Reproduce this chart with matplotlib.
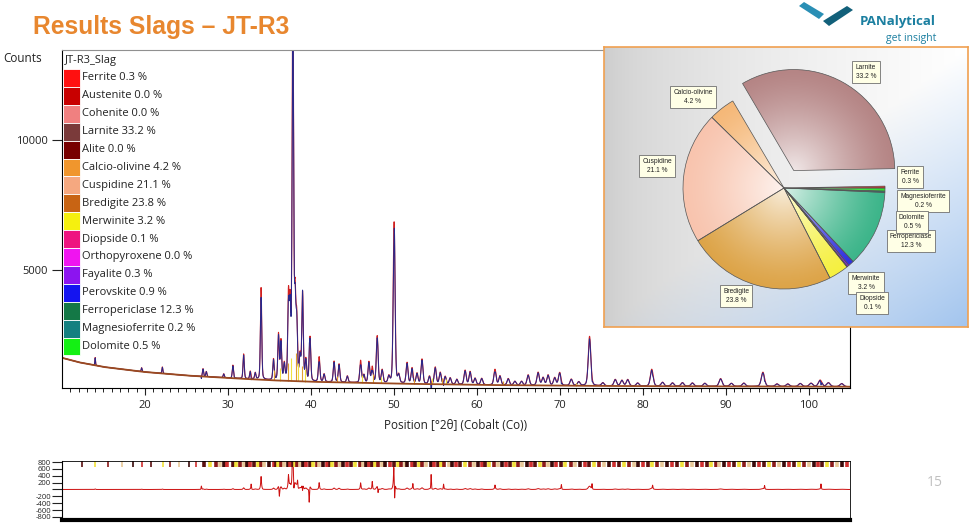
import numpy as np
import matplotlib.pyplot as plt
from matplotlib.patches import Rectangle, Polygon
from matplotlib.colors import to_rgb

plt.rcParams['font.family'] = ['Open Sans', 'DejaVu Sans']

# phases (legend order) and quantities
phases = ['Ferrite', 'Austenite', 'Cohenite', 'Larnite', 'Alite', 'Calcio-olivine',
          'Cuspidine', 'Bredigite', 'Merwinite', 'Diopside', 'Orthopyroxene',
          'Fayalite', 'Perovskite', 'Ferropericlase', 'Magnesioferrite', 'Dolomite']
pct = [0.3, 0.0, 0.0, 33.2, 0.0, 4.2, 21.1, 23.8, 3.2, 0.1, 0.0, 0.3, 0.9, 12.3, 0.2, 0.5]
legend_colors = ['#FF1010', '#C80000', '#F08080', '#7A3A3A', '#780000', '#F0962D',
                 '#F5A880', '#C86414', '#F5F00F', '#EE1480', '#F014F0', '#8C14F0',
                 '#1414F0', '#147846', '#148080', '#14F014']
pie_colors = {'Ferrite': '#F02020', 'Larnite': '#B58585', 'Calcio-olivine': '#F5B878',
              'Cuspidine': '#F8C4AE', 'Bredigite': '#DDA448', 'Merwinite': '#F5F040',
              'Diopside': '#EE1480', 'Fayalite': '#8C14F0', 'Perovskite': '#3030E0',
              'Ferropericlase': '#3DB58A', 'Magnesioferrite': '#148080', 'Dolomite': '#30E030'}

# diffraction pattern: background and peaks
bg_pos = [10, 12, 15, 18, 20, 25, 30, 35, 40, 50, 60, 70, 80, 90, 105]
bg_cnt = [1620, 1450, 1270, 1150, 1075, 940, 845, 760, 700, 630, 580, 550, 530, 520, 510]

peak_pos = [14.0, 19.6, 22.1, 27.0, 27.4, 29.5, 30.6, 31.9, 32.7, 33.3, 34.0, 35.5, 36.1,
            36.4, 36.8, 37.3, 37.5, 37.83, 38.1, 38.3, 38.7, 39.0, 39.4, 39.9, 41.0, 41.6,
            42.8, 43.4, 44.4, 46.0, 46.4, 47.0, 47.4, 48.0, 48.6, 49.4, 50.04,
            50.6, 51.6, 52.2, 52.8, 53.4, 54.3, 55.0, 55.6, 56.2, 56.8, 57.6, 58.6, 59.2,
            59.8, 60.6, 62.2, 62.8, 63.8, 64.6, 65.4, 66.2, 67.4, 68.0, 68.6, 69.4, 70.0,
            71.4, 72.3, 73.6, 75.2, 76.7, 77.5, 78.2, 79.4, 81.1, 82.4, 83.6, 84.8, 86.0,
            87.5, 89.4, 90.7, 92.2, 94.5, 96.2, 97.5, 99.0, 100.3, 101.4, 102.4, 104.0]
peak_h = [300, 150, 250, 300, 200, 150, 500, 950, 300, 250, 3530, 800, 1760,
          1500, 600, 3120, 2700, 15000, 3000, 2200, 900, 3360, 800, 1700, 950, 300,
          800, 700, 250, 850, 300, 800, 600, 1800, 500, 250, 6200,
          300, 800, 600, 400, 950, 300, 650, 450, 300, 250, 200, 550, 500,
          250, 250, 600, 350, 250, 150, 150, 400, 500, 300, 400, 300, 500,
          250, 150, 1900, 120, 250, 220, 250, 120, 650, 150, 130, 140, 130,
          120, 300, 120, 130, 550, 100, 100, 120, 130, 250, 150, 120]

# individual phase contributions drawn as sticks
stick_pos = [35.6, 36.3, 37.2, 37.6, 38.2, 38.5, 38.9, 39.3, 43.2, 46.2, 47.5, 48.4,
             52.4, 54.6, 55.8, 56.3, 63.2, 72.0]
stick_h = [400, 500, 700, 900, 1100, 700, 600, 500, 250, 300, 350, 250, 200, 250, 250,
           200, 150, 120]

# difference curve spikes
resid_pos = [26.8, 32.8, 34.0, 36.2, 37.3, 37.8, 37.95, 38.4, 39.0, 39.8, 41.0, 46.0, 47.4,
             48.1, 50.0, 50.1, 52.3, 54.5, 56.0, 62.2, 70.2, 73.9, 81.2, 94.7, 101.5]
resid_amp = [100, 150, 200, -250, 250, 950, -300, 200, -200, -420, 150, 150, 200,
             -150, 380, -530, 150, 430, 150, 100, 130, 150, 100, 100, 150]

# reference reflection positions (top strip of the difference plot)
refl_pos = [12.4, 14.0, 15.6, 17.2, 18.5, 19.6, 20.7, 22.2, 23.0, 24.1, 25.3, 26.2, 27.1,
            27.9, 28.6, 29.0, 29.5, 29.9, 30.6, 31.0, 31.4, 31.9, 32.3, 32.7, 33.2, 33.6,
            34.0, 34.4, 34.9, 35.5, 35.8, 36.1, 36.4, 36.8, 37.3, 37.5, 37.8, 38.1, 38.3,
            38.7, 39.0, 39.4, 39.9, 40.3, 40.7, 41.0, 41.5, 41.9, 42.3, 42.6, 43.0, 43.5,
            43.9, 44.4, 44.8, 45.3, 45.9, 46.3, 46.7, 47.0, 47.4, 47.7, 48.05, 48.6, 49.0,
            49.5, 50.04, 50.5, 50.9, 51.3, 51.6, 52.2, 52.6, 53.0, 53.4, 53.9, 54.5, 54.9,
            55.3, 55.7, 56.1, 56.6, 57.0, 57.5, 58.0, 58.6, 59.2, 59.7, 60.1, 60.6, 61.0,
            61.5, 62.1, 62.6, 63.0, 63.5, 64.0, 64.5, 65.0, 65.5, 66.0, 66.5, 67.0, 67.6,
            68.1, 68.6, 69.1, 69.6, 70.2, 70.7, 71.4, 71.9, 72.4, 73.0, 73.55, 74.1, 74.7,
            75.3, 75.9, 76.5, 77.1, 77.7, 78.3, 78.9, 79.5, 80.1, 80.6, 81.1, 81.7, 82.3,
            82.9, 83.5, 84.1, 84.7, 85.3, 85.9, 86.5, 87.1, 87.7, 88.3, 88.9, 89.2, 89.8,
            90.4, 91.0, 91.6, 92.2, 92.8, 93.4, 94.0, 94.6, 95.2, 95.8, 96.4, 97.0, 97.6,
            98.2, 98.8, 99.4, 100.0, 100.6, 101.2, 101.6, 102.2, 102.8, 103.4, 104.0, 104.6]
refl_cols = ['#5A1010', '#F2E23A', '#8B1A1A', '#E8C898', '#3A0A0A', '#D03030']

# pie label positions (figure pixels)
pie_label_xy = {'Larnite': (866, 72), 'Calcio-olivine': (693, 97), 'Cuspidine': (657, 166),
                'Ferrite': (910, 177), 'Magnesioferrite': (923, 201), 'Dolomite': (912, 222),
                'Ferropericlase': (911, 241), 'Merwinite': (866, 283), 'Diopside': (872, 303),
                'Bredigite': (736, 296)}

W, H = 975, 532
fig = plt.figure(figsize=(9.75, 5.32), dpi=100)


def box(l, t, r, b):
    return [l / W, 1 - b / H, (r - l) / W, (b - t) / H]


def profile(x, pos, h, w):
    d = (x[:, None] - np.asarray(pos)[None, :]) / np.asarray(w)[None, :]
    g = np.exp(-4 * np.log(2) * d ** 2)
    lo = 1 / (1 + 4 * d ** 2)
    return ((0.7 * g + 0.3 * lo) * np.asarray(h)[None, :]).sum(axis=1)


x = np.arange(10, 105.001, 0.01)
bg = np.interp(x, bg_pos, bg_cnt)
pw = 0.08 + 0.0045 * (np.array(peak_pos) - 10)
obs = bg + profile(x, peak_pos, peak_h, pw)
resid = profile(x, resid_pos, resid_amp, np.full(len(resid_pos), 0.08)) + 0.05 * (obs - bg)
calc = obs - resid

# main pattern
ax = fig.add_axes(box(62, 50, 850, 388))
ax.plot(x, obs, color='#D02020', lw=0.8)
ax.plot(x, calc, color='#28288C', lw=0.7)
sb = np.interp(stick_pos, bg_pos, bg_cnt)
ax.vlines(stick_pos, sb, sb + np.array(stick_h),
          colors=['#F0E040' if i % 2 else '#E0A030' for i in range(len(stick_pos))], lw=0.8)
ax.plot(x, bg, color='#9A4A20', lw=1.3)
ax.set_xlim(10, 105)
ax.set_ylim(460, 13450)
ax.set_xticks(range(20, 101, 10))
ax.set_xticks(range(11, 105), minor=True)
ax.set_yticks([5000, 10000])
ax.tick_params(axis='both', labelsize=8, colors='#222222', direction='out')
ax.tick_params(axis='y', length=7)
ax.tick_params(axis='x', which='major', length=5)
ax.tick_params(axis='x', which='minor', length=3)
ax.spines['top'].set_color('#909090')
ax.set_xlabel('Position [°2θ] (Cobalt (Co))', fontsize=8.5, color='#222222', labelpad=6)

# difference plot
ar = fig.add_axes(box(62, 461, 850, 520))
ar.plot(x, resid, color='#CC1010', lw=0.7)
rcol = [refl_cols[i % len(refl_cols)] for i in range(len(refl_pos))]
rlw = [1.2 if p < 27 else 2.6 for p in refl_pos]
ar.vlines(refl_pos, 0.9, 1.0, transform=ar.get_xaxis_transform(), colors=rcol, lw=rlw)
ar.set_xlim(10, 105)
ar.set_ylim(-890, 830)
ar.set_xticks([])
yt = list(range(-800, 801, 200))
ar.set_yticks(yt)
ar.set_yticklabels(['' if v == 0 else str(v) for v in yt])
ar.tick_params(axis='y', labelsize=5.5, length=7, pad=1, colors='#222222')
for s in ['top', 'right']:
    ar.spines[s].set_linewidth(0.6)
ar.spines['bottom'].set_linewidth(3)

# pie box
ap = fig.add_axes(box(604, 47, 968, 327))
u, v = np.meshgrid(np.linspace(0, 1, 200), np.linspace(0, 1, 160))
grey = np.array([0.80, 0.80, 0.80])
blue = np.array([0.62, 0.76, 0.93])
base = grey[None, None, :] * (1 - u[..., None] ** 0.6) + u[..., None] ** 0.6
wb = np.clip(u + (1 - v) - 1.0, 0, 1)[..., None] * 0.95
bimg = base * (1 - wb) + blue[None, None, :] * wb
ap.imshow(bimg, extent=[0, 364, 0, 280], origin='lower', zorder=0, aspect='auto')

pie_names = [p for p, q in zip(phases, pct) if q > 0]
pie_vals = [q for q in pct if q > 0]
r = 101
cx, cy = 180, 139
wedges, _ = ap.pie(pie_vals, colors=[pie_colors[n] for n in pie_names], startangle=0,
                   radius=r, center=(cx, cy), frame=True,
                   explode=[20 if n == 'Larnite' else 0 for n in pie_names],
                   wedgeprops=dict(edgecolor='#555555', linewidth=0.5))
gx, gy = np.meshgrid(np.linspace(-r - 25, r + 25, 260), np.linspace(-r - 25, r + 25, 260))
for wdg, n in zip(wedges, pie_names):
    c = np.array(to_rgb(pie_colors[n]))
    wx, wy = wdg.center
    t = np.clip(np.hypot(gx, gy) / r, 0, 1)[..., None]
    img = c + (1 - c) * 0.8 * (1 - t) ** 1.3
    im = ap.imshow(img, extent=[wx - r - 25, wx + r + 25, wy - r - 25, wy + r + 25],
                   origin='lower', zorder=2, aspect='auto')
    im.set_clip_path(wdg)
    wdg.set_facecolor('none')
    wdg.set_zorder(3)
for n in pie_names:
    if n in pie_label_xy:
        px, py = pie_label_xy[n]
        q = pct[phases.index(n)]
        ap.text(px - 604, 327 - py, f'{n}\n{q:.1f} %', fontsize=4.8, ha='center', va='center',
                family='Liberation Sans', color='#222222', zorder=5, linespacing=1.3,
                bbox=dict(boxstyle='square,pad=0.5', fc='#FFFFE6', ec='#707070', lw=0.6))
ap.set_xlim(0, 364)
ap.set_ylim(0, 280)
ap.set_aspect('auto')
ap.set_xticks([])
ap.set_yticks([])
for s in ap.spines.values():
    s.set_color('#F0A050')
    s.set_linewidth(1.2)

# overlay in pixel coordinates: title, logo, legend, labels
ov = fig.add_axes([0, 0, 1, 1])
ov.set_xlim(0, W)
ov.set_ylim(H, 0)
ov.axis('off')
ov.patch.set_alpha(0)

ov.text(33, 27, 'Results Slags – JT-R3', fontsize=17.7, fontweight='bold',
        family='Liberation Sans', color='#E8872F', va='center')
ov.add_patch(Polygon([(799, 6), (804, 2), (824, 14), (819, 19)], closed=True, fc='#2A8FB5', ec='none'))
ov.add_patch(Polygon([(823, 21), (847, 6), (853, 10), (829, 26)], closed=True, fc='#12607A', ec='none'))
ov.text(860, 21, 'PANalytical', fontsize=9.5, fontweight='bold', color='#1B7FA0', va='center')
ov.text(936, 39, 'get insight', fontsize=7.5, color='#1B7FA0', va='center', ha='right')

ov.text(3, 58, 'Counts', fontsize=8.5, color='#222222', va='center')
ov.text(65, 60, 'JT-R3_Slag', fontsize=8, color='#222222', va='center')
for i, (n, q, c) in enumerate(zip(phases, pct, legend_colors)):
    yc = 78 + i * 17.9
    ov.add_patch(Rectangle((63, yc - 8.95), 17, 17.9, fc=c, ec='white', lw=0.6))
    ov.text(82, yc, f'{n} {q:.1f} %', fontsize=8, color='#222222', va='center')

ov.text(935, 483, '15', fontsize=10, color='#C0C0C0', ha='center', va='center')

fig.savefig('out.png', dpi=100)
